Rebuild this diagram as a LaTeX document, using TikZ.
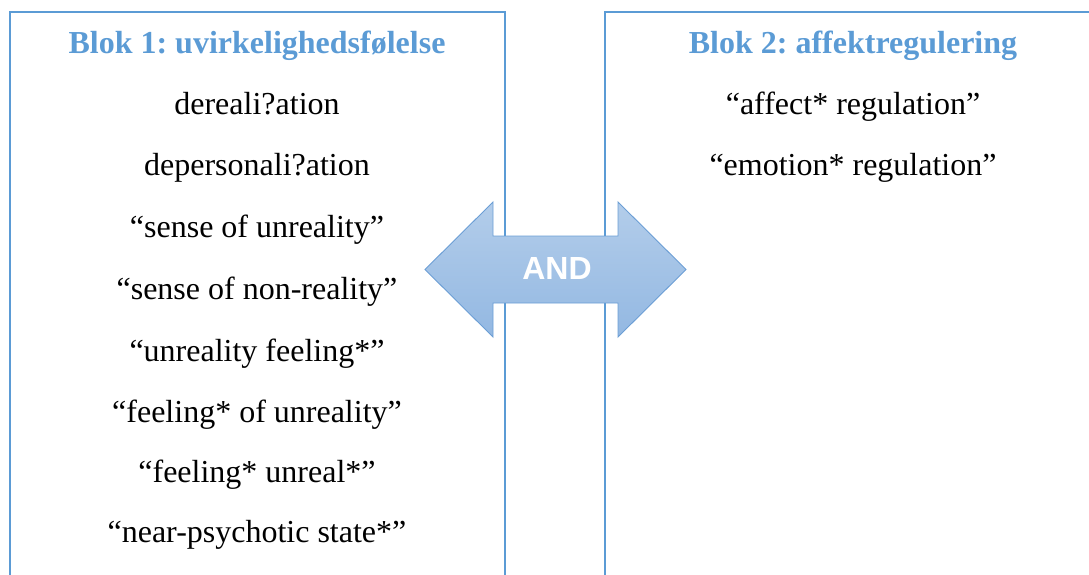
\documentclass[tikz,border=0pt]{standalone}
\usepackage{fontspec}
\setmainfont{Liberation Serif}
\newfontfamily\andfont{Liberation Sans}
\usetikzlibrary{calc}
\definecolor{blokblue}{HTML}{5B9BD5}
\definecolor{arrtop}{HTML}{B3CDEA}
\definecolor{arrbot}{HTML}{93B8E2}
\definecolor{arrline}{HTML}{6B9ED5}
\frenchspacing

\begin{document}
\begin{tikzpicture}[x=1pt, y=-1pt,
  frame/.style={draw=blokblue, line width=1.1pt},
  head/.style={anchor=base, text=blokblue, font=\fontsize{32}{38}\selectfont\bfseries},
  term/.style={anchor=base, font=\fontsize{32}{38}\selectfont},
  andtxt/.style={text=white, inner sep=0pt, font=\andfont\fontsize{32}{38}\selectfont\bfseries}]

\useasboundingbox (0,0) rectangle (1089,575);

% =================================================================================
% BLOK 1: the left frame, open at the bottom
% =================================================================================
\coordinate (b1sw) at (10,580);
\coordinate (b1nw) at (10,12);
\coordinate (b1ne) at (505,12);
\coordinate (b1se) at (505,580);
\draw[frame] (b1sw) -- (b1nw) -- (b1ne) -- (b1se);

\node[head] (h1) at (257,54) {Blok 1: uvirkelighedsfølelse};
\node[term] (w1) at (257,114) {dereali?ation};
\node[term] (w2) at (257,175) {depersonali?ation};
\node[term] (w3) at (257,237) {“sense of unreality”};
\node[term] (w4) at (257,299) {“sense of non-reality”};
\node[term] (w5) at (257,361) {“unreality feeling*”};
\node[term] (w6) at (257,422) {“feeling* of unreality”};
\node[term] (w7) at (257,482) {“feeling* unreal*”};
\node[term] (w8) at (257,542) {“near-psychotic state*”};

% =================================================================================
% BLOK 2: the right frame, cut off at the right and the bottom
% =================================================================================
\coordinate (b2sw) at (605,580);
\coordinate (b2nw) at (605,12);
\coordinate (b2ne) at (1095,12);
\draw[frame] (b2sw) -- (b2nw) -- (b2ne);

\node[head] (h2) at (853,54) {Blok 2: affektregulering};
\node[term] (v1) at (853,114) {“affect* regulation”};
\node[term] (v2) at (853,175) {“emotion* regulation”};

% the double arrow, drawn last so it sits over both frames
\path[draw=arrline, line width=0.9pt, top color=arrtop, bottom color=arrbot]
  (425,269.5) -- (493,202) -- (493,236) -- (618,236) -- (618,202)
  -- (686,269.5) -- (618,337) -- (618,303) -- (493,303) -- (493,337) -- cycle;
\node[andtxt] (and) at (557,268) {AND};

\end{tikzpicture}
\end{document}
